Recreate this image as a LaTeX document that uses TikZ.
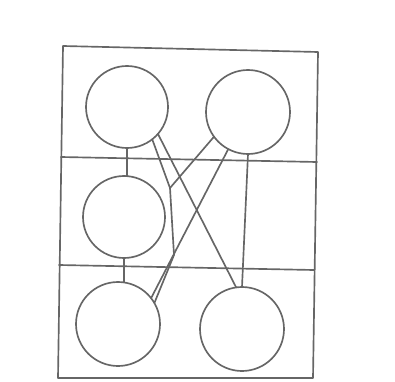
\documentclass[tikz,border=0pt]{standalone}
\usetikzlibrary{calc}
\begin{document}
\begin{tikzpicture}[x=0.75pt,y=-0.75pt,
  pen/.style={draw=black!60,line width=1.25pt,line join=round,line cap=round},
  circ/.style={pen,circle,inner sep=0pt,outer sep=0pt,minimum size=61.5pt}]
\useasboundingbox (0,0) rectangle (395,381);
% frame
\coordinate (c1) at (63,46);
\coordinate (c2) at (318,52);
\coordinate (c3) at (313,378);
\coordinate (c4) at (58,378);
\draw[pen] (c1) -- (c2) -- (c3) -- (c4) -- cycle;
\coordinate (h1l) at (61,157);
\coordinate (h1r) at (317,162);
\coordinate (h2l) at (59,265);
\coordinate (h2r) at (314,270);
\draw[pen] (h1l) -- (h1r);
\draw[pen] (h2l) -- (h2r);
% circles
\node[circ] (tl) at (127,107) {};
\node[circ,minimum size=63pt] (tr) at (248,112) {};
\node[circ] (ml) at (124,217) {};
\node[circ,minimum size=63pt] (bl) at (118,324) {};
\node[circ,minimum size=63pt] (br) at (242,329) {};
% connectors
\draw[pen] (tl.south) -- (tl.south |- ml.north);
\draw[pen] (ml.south) -- (ml.south |- bl.north);
\draw[pen] (tr.south) -- (br.north);
\draw[pen] (tl.-41) -- (br.98);
\draw[pen] (tr.-118) -- (bl.38);
\coordinate (j) at (170,188);
\coordinate (k) at (174,255);
\draw[pen] (tl.-52) -- (j);
\draw[pen] (tr.-144) -- (j);
\draw[pen] (j) -- (k) -- (bl.30);
\end{tikzpicture}
\end{document}
